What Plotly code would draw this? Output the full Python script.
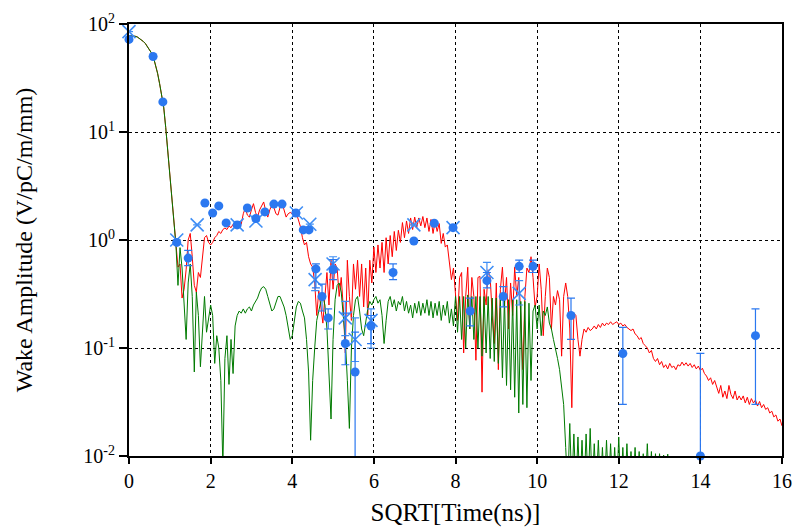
import plotly.graph_objects as go

# sampled curves: one value every STEP in sqrt(t), starting at 0
STEP = 0.05

red_y = [
    78, 78, 77.5, 77, 76, 74, 72, 69, 66, 62, 58, 54, 49, 42, 35, 28, 22, 17, 11, 6.5,
    3.8, 2.3, 1.4, 0.95, 0.56, 0.6, 0.29, 0.35, 0.53, 1.0, 1.15, 0.7, 0.38, 0.33, 0.5, 0.45, 0.75, 1.05, 1.1, 0.95,
    0.9, 0.95, 1.05, 1.1, 1.2, 1.15, 1.25, 1.29, 1.25, 1.35, 1.3, 1.4, 1.35, 1.38, 1.5, 1.4, 1.75, 1.98, 1.7, 1.63,
    1.9, 2.17, 1.8, 1.63, 1.9, 2.1, 2.25, 1.85, 1.63, 1.9, 2.1, 2.0, 1.75, 1.7, 2.0, 2.2, 1.9, 1.63, 1.75, 1.8,
    1.75, 1.85, 1.78, 1.5, 1.33, 1.05, 0.9, 0.95, 0.7, 0.6, 0.56, 0.4, 0.2, 0.34, 0.25, 0.17, 0.3, 0.5, 0.25, 0.65,
    0.35, 0.6, 0.55, 0.3, 0.45, 0.24, 0.09, 0.65, 0.3, 0.18, 0.6, 0.35, 0.65, 0.3, 0.6, 0.24, 0.55, 0.2, 0.65, 0.4,
    0.86, 0.5, 0.9, 0.55, 0.95, 0.5, 1.05, 0.6, 1.1, 0.7, 1.2, 0.8, 1.23, 0.95, 1.45, 1.05, 1.5, 1.15, 1.6, 1.25,
    1.63, 1.3, 1.6, 1.35, 1.65, 1.3, 1.6, 1.2, 1.55, 1.15, 1.5, 1.2, 1.42, 0.93, 1.15, 0.86, 0.9, 0.65, 0.43, 0.55,
    0.34, 0.18, 0.45, 0.5, 0.09, 0.3, 0.56, 0.15, 0.45, 0.3, 0.077, 0.45, 0.46, 0.039, 0.35, 0.25, 0.53, 0.45, 0.2, 0.11,
    0.4, 0.063, 0.35, 0.56, 0.25, 0.45, 0.15, 0.4, 0.2, 0.56, 0.3, 0.45, 0.2, 0.063, 0.3, 0.55, 0.5, 0.7, 0.45, 0.24,
    0.3, 0.6, 0.35, 0.13, 0.3, 0.55, 0.45, 0.15, 0.3, 0.25, 0.34, 0.28, 0.084, 0.3, 0.4, 0.3, 0.15, 0.028, 0.21, 0.2,
    0.12, 0.084, 0.12, 0.15, 0.14, 0.155, 0.145, 0.15, 0.16, 0.15, 0.165, 0.155, 0.17, 0.16, 0.17, 0.165, 0.175, 0.165, 0.17, 0.175,
    0.165, 0.17, 0.16, 0.165, 0.155, 0.15, 0.145, 0.15, 0.135, 0.13, 0.12, 0.125, 0.11, 0.105, 0.1, 0.09, 0.095, 0.08, 0.075, 0.08,
    0.07, 0.075, 0.066, 0.07, 0.064, 0.072, 0.066, 0.068, 0.063, 0.07, 0.068, 0.074, 0.069, 0.073, 0.068, 0.072, 0.066, 0.07, 0.064, 0.068,
    0.062, 0.065, 0.058, 0.055, 0.05, 0.053, 0.046, 0.05, 0.043, 0.038, 0.045, 0.035, 0.04, 0.034, 0.045, 0.037, 0.034, 0.04, 0.033, 0.036,
    0.033, 0.036, 0.031, 0.035, 0.03, 0.034, 0.031, 0.033, 0.029, 0.032, 0.028, 0.03, 0.027, 0.028, 0.025, 0.026, 0.023, 0.024, 0.021, 0.022,
    0.019,
]

green_y = [
    78, 78, 77.5, 77, 76, 74, 72, 69, 66, 62, 58, 54, 49, 42, 35, 28, 22, 17, 11, 6.5,
    3.8, 2.3, 1.4, 0.9, 0.38, 0.85, 0.55, 0.25, 0.12, 0.4, 0.6, 0.3, 0.06, 0.33, 0.2, 0.067, 0.15, 0.3, 0.14, 0.18,
    0.25, 0.2, 0.072, 0.13, 0.1, 0.05, 0.008, 0.08, 0.13, 0.046, 0.12, 0.058, 0.16, 0.2, 0.22, 0.21, 0.23, 0.21, 0.23, 0.24,
    0.22, 0.25, 0.27, 0.29, 0.33, 0.36, 0.37, 0.35, 0.3, 0.25, 0.22, 0.23, 0.27, 0.3, 0.3, 0.27, 0.24, 0.2, 0.15, 0.12,
    0.13, 0.18, 0.24, 0.27, 0.26, 0.22, 0.19, 0.12, 0.06, 0.014, 0.05, 0.1, 0.18, 0.22, 0.27, 0.3, 0.25, 0.15, 0.06, 0.022,
    0.12, 0.28, 0.38, 0.4, 0.33, 0.2, 0.12, 0.05, 0.018, 0.1, 0.2, 0.28, 0.3, 0.22, 0.15, 0.13, 0.17, 0.23, 0.27, 0.25,
    0.28, 0.3, 0.26, 0.28, 0.2, 0.11, 0.18, 0.27, 0.3, 0.24, 0.28, 0.22, 0.27, 0.25, 0.3, 0.22, 0.27, 0.21, 0.25, 0.19,
    0.26, 0.21, 0.27, 0.2, 0.26, 0.21, 0.28, 0.2, 0.27, 0.19, 0.26, 0.2, 0.27, 0.18, 0.25, 0.2, 0.27, 0.17, 0.23, 0.16,
    0.3, 0.14, 0.3, 0.12, 0.3, 0.1, 0.31, 0.15, 0.3, 0.12, 0.3, 0.1, 0.3, 0.084, 0.3, 0.09, 0.3, 0.08, 0.29, 0.075,
    0.29, 0.072, 0.29, 0.053, 0.29, 0.045, 0.28, 0.041, 0.28, 0.035, 0.28, 0.025, 0.27, 0.03, 0.27, 0.028, 0.26, 0.05, 0.22, 0.25,
    0.15, 0.25, 0.13, 0.22, 0.2, 0.24, 0.17, 0.15, 0.12, 0.1, 0.08, 0.063, 0.045, 0.03, 0.012, 0.005, 0.02, 0.005, 0.016, 0.005,
    0.015, 0.005, 0.014, 0.005, 0.016, 0.005, 0.018, 0.005, 0.013, 0.005, 0.014, 0.005, 0.012, 0.005, 0.014, 0.005, 0.013, 0.005, 0.012, 0.005,
    0.015, 0.005, 0.012, 0.005, 0.013, 0.005, 0.011, 0.005, 0.012, 0.005, 0.011, 0.005, 0.0105, 0.005, 0.013, 0.005, 0.011, 0.005, 0.0105, 0.005,
    0.0105, 0.005, 0.0102, 0.005, 0.0104, 0.005, 0.005,
]

# measured points (filled circles) with error-bar top / bottom
circ_x = [0, 0.59, 0.83, 1.17, 1.45, 1.86, 2.05, 2.2, 2.38, 2.65, 2.9, 3.11, 3.33, 3.55, 3.75,
          4.09, 4.27, 4.41, 4.58, 4.73, 4.88, 5.0, 5.3, 5.54, 5.93, 6.47, 6.98, 7.48, 7.94,
          8.36, 8.77, 9.17, 9.56, 9.9, 10.83, 12.1, 14.0, 15.35]
circ_y = [72, 50, 19, 0.95, 0.68, 2.2, 1.78, 2.07, 1.44, 1.38, 1.98, 1.58, 1.82, 2.15, 2.15,
          1.78, 1.24, 1.24, 0.54, 0.3, 0.19, 0.53, 0.11, 0.06, 0.16, 0.5, 0.98, 1.43, 1.3,
          0.22, 0.42, 0.30, 0.57, 0.57, 0.2, 0.089, 0.01, 0.13]
circ_top = [72, 50, 19, 0.95, 0.8, 2.2, 1.78, 2.07, 1.44, 1.38, 1.98, 1.58, 1.82, 2.15, 2.15,
            1.78, 1.24, 1.24, 0.6, 0.39, 0.23, 0.66, 0.21, 0.14, 0.2, 0.6, 0.98, 1.43, 1.3,
            0.29, 0.5, 0.37, 0.65, 0.65, 0.29, 0.155, 0.089, 0.23]
circ_bot = [72, 50, 19, 0.95, 0.58, 2.2, 1.78, 2.07, 1.44, 1.38, 1.98, 1.58, 1.82, 2.15, 2.15,
            1.78, 1.24, 1.24, 0.36, 0.22, 0.15, 0.43, 0.07, 0.005, 0.11, 0.43, 0.98, 1.43, 1.3,
            0.16, 0.36, 0.24, 0.5, 0.5, 0.12, 0.03, 0.005, 0.03]

# second measurement set (crosses)
xm_x = [0, 1.17, 1.67, 2.65, 3.11, 4.1, 4.43, 4.56, 5.0, 5.3, 5.54, 5.93, 6.98, 7.94, 8.77, 9.56]
xm_y = [85, 1.0, 1.38, 1.38, 1.5, 1.78, 1.4, 0.43, 0.6, 0.19, 0.12, 0.18, 1.38, 1.3, 0.5, 0.32]
xm_top = [85, 1.0, 1.38, 1.38, 1.5, 1.78, 1.4, 0.55, 0.7, 0.27, 0.19, 0.23, 1.38, 1.3, 0.62, 0.42]
xm_bot = [85, 1.0, 1.38, 1.38, 1.5, 1.78, 1.4, 0.34, 0.5, 0.13, 0.075, 0.1, 1.38, 1.3, 0.42, 0.25]

red_x = [round(i * STEP, 2) for i in range(len(red_y))]
green_x = [round(i * STEP, 2) for i in range(len(green_y))]

BLUE = "#2b78f0"
BLUE_X = "#3f8ef5"
FONT = "Liberation Serif"

fig = go.Figure()
fig.add_trace(go.Scatter(x=red_x, y=red_y, mode="lines",
                         line=dict(color="#ff0000", width=1)))
fig.add_trace(go.Scatter(x=green_x, y=green_y, mode="lines",
                         line=dict(color="#007a00", width=1)))
fig.add_trace(go.Scatter(
    x=xm_x, y=xm_y, mode="markers", cliponaxis=False,
    marker=dict(symbol="x-thin", size=13, line=dict(color=BLUE_X, width=1.6)),
    error_y=dict(type="data", symmetric=False,
                 array=[t - v for t, v in zip(xm_top, xm_y)],
                 arrayminus=[v - b for v, b in zip(xm_y, xm_bot)],
                 color=BLUE_X, thickness=1.2, width=4)))
fig.add_trace(go.Scatter(
    x=circ_x, y=circ_y, mode="markers", cliponaxis=False,
    marker=dict(symbol="circle", size=9, color=BLUE),
    error_y=dict(type="data", symmetric=False,
                 array=[t - v for t, v in zip(circ_top, circ_y)],
                 arrayminus=[v - b for v, b in zip(circ_y, circ_bot)],
                 color=BLUE, thickness=1.2, width=4)))

fig.update_layout(
    width=795, height=527, showlegend=False,
    paper_bgcolor="white", plot_bgcolor="white",
    margin=dict(l=129, r=13, t=24, b=71),
    font=dict(family=FONT, color="black", size=20),
)
fig.update_xaxes(
    range=[0, 16], tickvals=[0, 2, 4, 6, 8, 10, 12, 14, 16],
    showline=True, linecolor="black", linewidth=2, mirror=True,
    showgrid=True, gridcolor="black", gridwidth=1, griddash="dot",
    zeroline=False, ticks="outside", ticklen=6, tickwidth=1.5, tickcolor="black",
    tickfont=dict(size=20), automargin=False,
    title=dict(text="SQRT[Time(ns)]", font=dict(size=25), standoff=12),
)
fig.update_yaxes(
    type="log", range=[-2, 2],
    tickvals=[0.01, 0.1, 1, 10, 100],
    ticktext=["10<sup>-2</sup>", "10<sup>-1</sup>", "10<sup>0</sup>",
              "10<sup>1</sup>", "10<sup>2</sup>"],
    showline=True, linecolor="black", linewidth=2, mirror=True,
    showgrid=True, gridcolor="black", gridwidth=1, griddash="dot",
    zeroline=False, ticks="outside", ticklen=8, tickwidth=1.5, tickcolor="black",
    tickfont=dict(size=20), automargin=False,
    title=dict(text="Wake Amplitude (V/pC/m/mm)", font=dict(size=24), standoff=44),
)

# drop the default page margin so the figure fills the window exactly
fig.write_html("out.html", config={"displayModeBar": False},
               post_script="document.body.style.margin='0';")
